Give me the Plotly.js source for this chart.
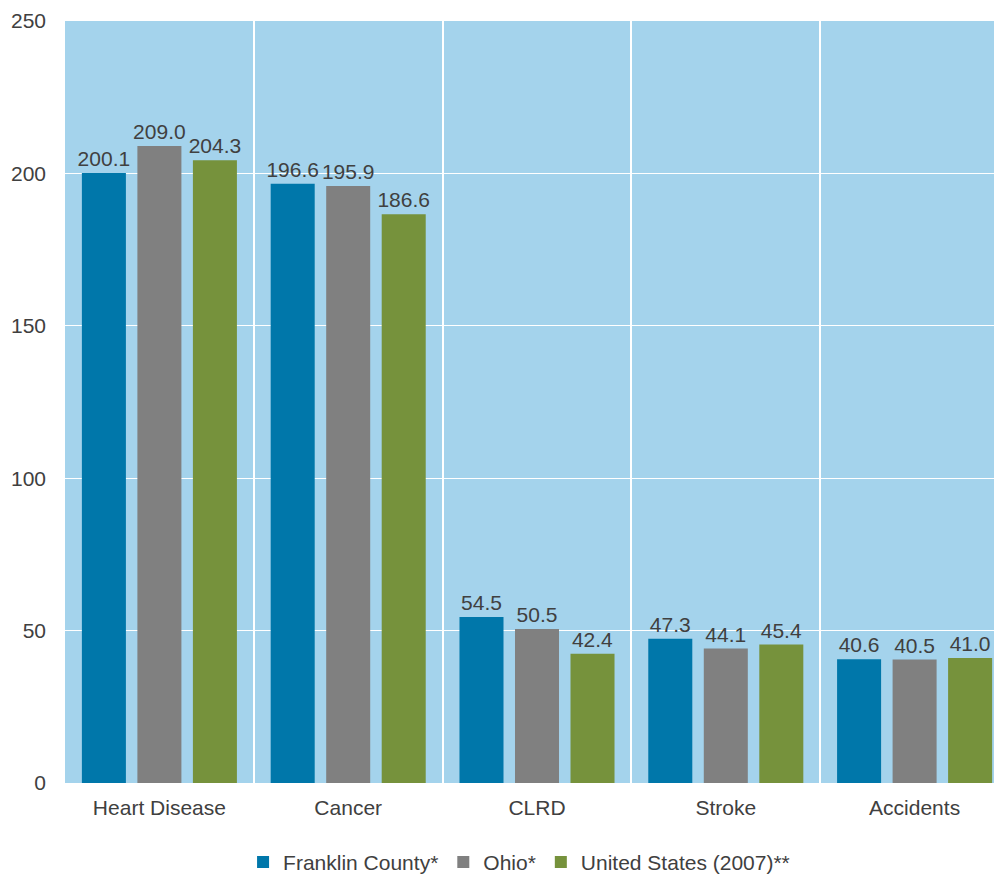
<!DOCTYPE html>
<html>
<head>
<meta charset="utf-8">
<script src="https://cdn.plot.ly/plotly-3.0.1.min.js"></script>
<style>
html, body { margin: 0; padding: 0; overflow: hidden; background: #fff; }
#chart { width: 1010px; height: 876px; }
</style>
</head>
<body>
<div id="chart"></div>
<script>
const categories = ["Heart Disease", "Cancer", "CLRD", "Stroke", "Accidents"];
const seriesNames = ["Franklin County*", "Ohio*", "United States (2007)**"];
const franklin = [200.1, 196.6, 54.5, 47.3, 40.6];
const ohio = [209.0, 195.9, 50.5, 44.1, 40.5];
const us2007 = [204.3, 186.6, 42.4, 45.4, 41.0];
const colors = ["#0077AA", "#808080", "#76923C"];

const fontFam = "'Liberation Sans', Arial, sans-serif";
const textCol = "#404040";
const fs = 21;

const seriesVals = [franklin, ohio, us2007];
const traces = seriesVals.map((vals, i) => ({
  type: "bar",
  name: seriesNames[i],
  x: categories,
  y: vals,
  marker: { color: colors[i], line: { width: 0 } },
  texttemplate: "%{y:.1f}",
  textposition: "outside",
  constraintext: "none",
  textfont: { family: fontFam, size: fs, color: textCol },
  cliponaxis: false,
  hoverinfo: "skip"
}));

const layout = {
  width: 1010,
  height: 876,
  margin: { l: 65, r: 1, t: 21, b: 93, autoexpand: false },
  paper_bgcolor: "#ffffff",
  plot_bgcolor: "#A4D3EC",
  barmode: "group",
  bargap: 0.118,
  bargroupgap: 0.207,
  font: { family: fontFam, size: fs, color: textCol },
  xaxis: {
    type: "category",
    tickson: "boundaries",
    showgrid: true,
    gridcolor: "#ffffff",
    gridwidth: 2,
    ticks: "",
    showline: false,
    zeroline: false,
    ticklabelstandoff: 10,
    tickfont: { family: fontFam, size: fs, color: textCol }
  },
  yaxis: {
    range: [0, 250],
    dtick: 50,
    tick0: 0,
    showgrid: true,
    gridcolor: "#ffffff",
    gridwidth: 1,
    zeroline: false,
    showline: false,
    ticks: "",
    ticklabelstandoff: 18,
    tickfont: { family: fontFam, size: fs, color: textCol }
  },
  showlegend: true,
  legend: {
    orientation: "h",
    x: 0.481,
    xanchor: "center",
    y: -0.104,
    yanchor: "middle",
    font: { family: fontFam, size: fs, color: textCol },
    itemwidth: 30,
    traceorder: "normal"
  }
};

Plotly.newPlot("chart", traces, layout, { displayModeBar: false, staticPlot: true });
</script>
</body>
</html>
